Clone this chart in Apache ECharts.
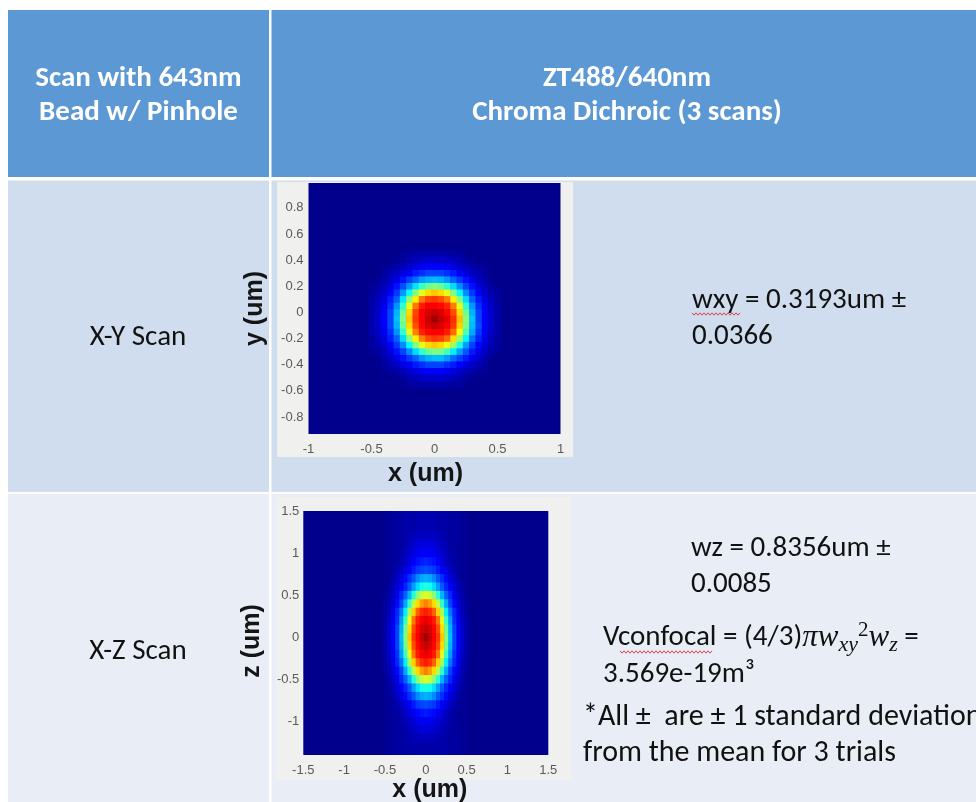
<!DOCTYPE html>
<html>
<head>
<meta charset="utf-8">
<script src="https://cdn.jsdelivr.net/npm/echarts@6/dist/echarts.min.js"></script>
<style>
  html, body { margin: 0; padding: 0; background: #ffffff; }
  #main { width: 976px; height: 802px; }
</style>
</head>
<body>
<div id="main"></div>
<script>
// x-y scan: cell centres (um) and intensity in % of peak, rows top (y = 0.45) to bottom (y = -0.55)
const xyX = [-0.5, -0.45, -0.4, -0.35, -0.3, -0.25, -0.2, -0.15, -0.1, -0.05, 0, 0.05, 0.1, 0.15, 0.2, 0.25, 0.3, 0.35, 0.4, 0.45, 0.5];
const xyY = [0.45, 0.4, 0.35, 0.3, 0.25, 0.2, 0.15, 0.1, 0.05, 0, -0.05, -0.1, -0.15, -0.2, -0.25, -0.3, -0.35, -0.4, -0.45, -0.5, -0.55];
const xyRows = [
  [0,0,0,0,0,1,2,2,3,3,3,3,3,2,2,1,0,0,0,0,0],
  [0,0,0,0,1,2,4,5,6,7,7,7,6,5,4,2,1,0,0,0,0],
  [0,0,1,2,3,5,7,9,11,12,12,12,11,9,7,5,3,2,1,0,0],
  [0,0,2,4,6,9,12,15,17,19,19,19,17,15,12,9,6,4,2,0,0],
  [0,1,3,6,10,14,19,23,28,30,31,30,27,22,18,14,10,6,3,1,0],
  [1,2,5,9,14,20,27,35,43,48,50,48,42,34,26,19,14,9,5,2,1],
  [2,4,7,12,18,27,38,51,60,66,68,66,60,50,37,26,18,12,7,4,2],
  [2,5,9,15,22,35,51,64,76,81,82,80,75,64,50,34,22,15,9,5,2],
  [3,6,11,17,27,42,60,76,85,88,88,87,84,75,60,42,27,17,11,6,3],
  [3,7,12,19,30,48,66,81,88,91,93,91,87,80,66,48,30,19,12,7,3],
  [3,7,12,19,31,50,68,82,88,93,97,93,90,83,69,51,32,19,12,7,3],
  [3,7,12,19,30,48,66,80,87,91,93,91,88,82,67,50,31,20,12,7,3],
  [3,6,11,17,27,42,60,75,84,87,88,88,85,77,62,45,29,18,11,6,3],
  [2,5,9,15,22,34,50,64,75,80,82,81,77,66,53,37,24,16,10,5,2],
  [2,4,7,12,18,26,37,50,60,66,68,66,61,53,40,28,19,13,8,4,2],
  [1,2,5,9,14,19,26,34,42,48,50,49,44,36,28,21,15,10,6,3,1],
  [0,1,3,6,10,14,18,22,27,30,31,31,28,23,19,15,11,7,4,1,0],
  [0,0,2,4,6,9,12,15,17,19,19,19,17,15,12,9,6,4,2,0,0],
  [0,0,1,2,3,5,7,9,11,12,12,12,11,9,7,5,3,2,1,0,0],
  [0,0,0,0,1,2,4,5,6,7,7,7,6,5,4,2,1,0,0,0,0],
  [0,0,0,0,0,1,2,2,3,3,3,3,3,2,2,1,0,0,0,0,0]
];

// x-z scan: cell centres (um) and intensity in % of peak, rows top (z = 1.5) to bottom (z = -1.4)
const xzX = [-0.5, -0.45, -0.4, -0.35, -0.3, -0.25, -0.2, -0.15, -0.1, -0.05, 0, 0.05, 0.1, 0.15, 0.2, 0.25, 0.3, 0.35, 0.4, 0.45, 0.5];
const xzZ = [1.5, 1.4, 1.3, 1.2, 1.1, 1.0, 0.9, 0.8, 0.7, 0.6, 0.5, 0.4, 0.3, 0.2, 0.1, 0, -0.1, -0.2, -0.3, -0.4, -0.5, -0.6, -0.7, -0.8, -0.9, -1.0, -1.1, -1.2, -1.3, -1.4];
const xzRows = [
  [1,1,2,2,2,3,3,3,4,4,4,4,4,3,3,3,2,2,2,1,1],
  [1,1,2,2,2,3,3,3,4,4,4,4,4,3,3,3,2,2,2,1,1],
  [1,1,2,2,2,3,3,3,4,4,4,4,4,3,3,3,2,2,2,1,1],
  [1,1,2,2,2,3,4,5,6,6,6,6,6,5,4,3,2,2,2,1,1],
  [1,1,2,2,2,4,5,7,8,9,9,9,8,7,5,4,2,2,2,1,1],
  [1,1,2,2,3,5,7,9,11,12,12,12,11,9,7,5,3,2,2,1,1],
  [1,1,2,2,4,6,9,12,14,15,16,15,14,12,9,6,4,2,2,1,1],
  [1,1,2,4,6,9,12,15,18,19,20,19,18,15,12,9,6,4,2,1,1],
  [1,1,3,6,9,13,17,21,26,29,30,29,26,21,17,13,9,6,3,1,1],
  [1,2,5,8,12,16,21,28,34,39,41,39,34,28,21,16,12,8,5,2,1],
  [1,3,6,10,16,22,30,41,51,57,59,57,51,41,30,22,16,10,6,3,1],
  [2,4,8,13,19,29,42,56,66,72,75,72,66,56,42,29,19,13,8,4,2],
  [2,5,10,16,24,36,54,67,78,83,85,83,78,67,54,36,24,16,10,5,2],
  [3,6,11,17,28,43,60,76,85,88,90,88,85,76,60,43,28,17,11,6,3],
  [3,7,12,19,30,48,66,80,87,91,93,91,87,80,66,48,30,19,12,7,3],
  [3,7,12,19,31,50,68,82,88,93,97,93,88,82,68,50,31,19,12,7,3],
  [3,7,12,19,30,48,66,80,87,91,93,91,87,80,66,48,30,19,12,7,3],
  [3,6,11,17,28,43,60,76,85,88,90,88,85,76,60,43,28,17,11,6,3],
  [2,5,10,16,24,36,54,67,78,83,85,83,78,67,54,36,24,16,10,5,2],
  [2,4,8,13,19,29,42,56,66,72,75,72,66,56,42,29,19,13,8,4,2],
  [1,3,6,10,16,22,30,41,51,57,59,57,51,41,30,22,16,10,6,3,1],
  [1,2,5,8,12,16,21,28,34,39,41,39,34,28,21,16,12,8,5,2,1],
  [1,1,3,6,9,13,17,21,26,29,30,29,26,21,17,13,9,6,3,1,1],
  [1,1,2,4,6,9,12,15,18,19,20,19,18,15,12,9,6,4,2,1,1],
  [1,1,2,2,4,6,9,11,13,14,15,14,13,11,9,6,4,2,2,1,1],
  [1,1,2,2,3,5,6,8,10,11,11,11,10,8,6,5,3,2,2,1,1],
  [1,1,2,2,2,3,5,6,7,8,8,8,7,6,5,3,2,2,2,1,1],
  [1,1,2,2,2,3,3,4,5,5,5,5,5,4,3,3,2,2,2,1,1],
  [1,1,2,2,2,3,3,3,3,3,3,3,3,3,3,3,2,2,2,1,1],
  [1,1,2,2,2,3,3,3,3,3,3,3,3,3,3,3,2,2,2,1,1]
];

// matlab jet
const jet = ['#00008c', '#0000ff', '#0080ff', '#00ffff', '#80ff80', '#ffff00', '#ff8000', '#ff0000', '#800000'];

const SANS = 'Carlito, Lato, "Open Sans", sans-serif';
const AX_FONT = '"Liberation Sans", Arial, sans-serif';
const MATH = '"Liberation Serif", "DejaVu Serif", serif';

function cells(xs, ys, rows) {
  const out = [];
  rows.forEach((row, i) => row.forEach((v, j) => out.push([xs[j], ys[i], v])));
  return out;
}

function cellSeries(idx, data, dx, dy) {
  return {
    type: 'custom',
    xAxisIndex: idx,
    yAxisIndex: idx,
    clip: true,
    silent: true,
    dimensions: ['x', 'y', 'v'],
    encode: { x: 0, y: 1 },
    data: data,
    renderItem: function (params, api) {
      const a = api.coord([api.value(0) - dx / 2, api.value(1) + dy / 2]);
      const b = api.coord([api.value(0) + dx / 2, api.value(1) - dy / 2]);
      return {
        type: 'rect',
        shape: { x: a[0], y: a[1], width: b[0] - a[0] + 0.6, height: b[1] - a[1] + 0.6 },
        style: { fill: api.visual('color') }
      };
    }
  };
}

// only show labels on round steps (min/max of the axis are not round)
function stepLabel(step) {
  return function (v) {
    const k = Math.round(v / step);
    if (Math.abs(v - k * step) > 1e-6) return '';
    return String(+(k * step).toFixed(2));
  };
}

function axisBase(idx) {
  return {
    gridIndex: idx,
    type: 'value',
    axisLine: { show: false, onZero: false },
    axisTick: { show: false },
    splitLine: { show: false },
    nameLocation: 'middle',
    nameMoveOverlap: false
  };
}

function nameStyle(padding) {
  return { fontSize: 25, fontWeight: 'bold', color: '#151515', fontFamily: AX_FONT, padding: padding };
}

function tickStyle(margin, formatter) {
  const s = { color: '#5a5a5a', fontSize: 13, margin: margin, fontFamily: AX_FONT };
  if (formatter) s.formatter = formatter;
  return s;
}

function squiggle(x0, x1, y) {
  const pts = [];
  let k = 0;
  for (let x = x0; x <= x1; x += 2) {
    pts.push([x, y + (k % 2 ? 1.2 : -1.2)]);
    k++;
  }
  return { type: 'polyline', shape: { points: pts }, style: { stroke: '#d8434a', lineWidth: 1, fill: null }, z: 11, silent: true };
}

function rect(x, y, w, h, color, z) {
  return { type: 'rect', shape: { x: x, y: y, width: w, height: h }, style: { fill: color }, z: z, silent: true };
}

function label(x, y, text, opts) {
  return {
    type: 'text', x: x, y: y, z: 10, silent: true,
    style: Object.assign({
      text: text, fill: '#111111', fontSize: 29, fontFamily: SANS,
      textAlign: 'left', textVerticalAlign: 'middle', lineHeight: 36
    }, opts || {})
  };
}

const chart = echarts.init(document.getElementById('main'), null, { renderer: 'canvas' });

const option = {
  animation: false,
  backgroundColor: '#ffffff',
  textStyle: { fontFamily: AX_FONT },
  graphic: [
    // table cells
    rect(8, 10, 261, 167, '#5b98d4', -20),
    rect(271.5, 10, 710, 167, '#5b98d4', -20),
    rect(8, 180.5, 261, 311.5, '#d0ddef', -20),
    rect(271.5, 180.5, 710, 311.5, '#d0ddef', -20),
    rect(8, 494, 261, 310, '#e9eef6', -20),
    rect(271.5, 494, 710, 310, '#e9eef6', -20),
    // figure panels
    rect(277, 182, 296, 275, '#f0f0ee', -15),
    rect(276, 497, 295, 283, '#f0f0ee', -15),
    // header text
    label(138.5, 96, 'Scan with 643nm\nBead w/ Pinhole', { fill: '#ffffff', fontWeight: 'bold', textAlign: 'center', lineHeight: 34 }),
    label(627, 96, 'ZT488/640nm\nChroma Dichroic (3 scans)', { fill: '#ffffff', fontWeight: 'bold', textAlign: 'center', lineHeight: 34 }),
    // row labels
    label(138, 338, 'X-Y Scan', { textAlign: 'center' }),
    label(138, 652, 'X-Z Scan', { textAlign: 'center' }),
    // results
    label(692, 319, 'wxy = 0.3193um \u00b1\n0.0366'),
    label(691, 567, 'wz = 0.8356um \u00b1\n0.0085'),
    label(603, 638, '{n|Vconfocal = (4/3)}{m|\u03c0w}{s|xy}{p|2}{m|w}{s|z}{n| =}', {
      rich: {
        n: { fontSize: 29, fontFamily: SANS, fill: '#111111', lineHeight: 36 },
        m: { fontSize: 31, fontFamily: MATH, fontStyle: 'italic', fill: '#111111', lineHeight: 36 },
        s: { fontSize: 22, fontFamily: MATH, fontStyle: 'italic', fill: '#111111', lineHeight: 22, verticalAlign: 'bottom' },
        p: { fontSize: 21, fontFamily: MATH, fill: '#111111', lineHeight: 25, verticalAlign: 'top' }
      }
    }),
    label(603, 675, '3.569e-19m\u00b3'),
    label(583, 735, '*All \u00b1  are \u00b1 1 standard deviation\nfrom the mean for 3 trials', { fontSize: 30 }),
    squiggle(692, 740, 314),
    squiggle(620, 712, 652)
  ],
  grid: [
    { left: 308.5, top: 183, width: 252, height: 251, show: true, backgroundColor: '#00008c', borderWidth: 0, outerBoundsMode: 'none' },
    { left: 303.3, top: 511, width: 245, height: 244, show: true, backgroundColor: '#00008c', borderWidth: 0, outerBoundsMode: 'none' }
  ],
  xAxis: [
    Object.assign(axisBase(0), {
      min: -1, max: 1, interval: 0.5,
      axisLabel: tickStyle(9),
      name: 'x (um)', nameGap: 28, nameTextStyle: nameStyle([0, 18, 0, 0])
    }),
    Object.assign(axisBase(1), {
      min: -1.5, max: 1.5, interval: 0.5,
      axisLabel: tickStyle(9),
      name: 'x (um)', nameGap: 23, nameTextStyle: nameStyle([0, 0, 0, 8])
    })
  ],
  yAxis: [
    Object.assign(axisBase(0), {
      min: -0.93, max: 0.99, minInterval: 0.2, maxInterval: 0.2,
      axisLabel: tickStyle(5, stepLabel(0.2)),
      name: 'y (um)', nameRotate: 90, nameGap: 41, nameTextStyle: nameStyle([0, 0, 0, 0])
    }),
    Object.assign(axisBase(1), {
      min: -1.4, max: 1.5, minInterval: 0.5, maxInterval: 0.5,
      axisLabel: tickStyle(4, stepLabel(0.5)),
      name: 'z (um)', nameRotate: 90, nameGap: 39, nameTextStyle: nameStyle([0, 16, 0, 0])
    })
  ],
  visualMap: {
    type: 'continuous',
    show: false,
    min: 0,
    max: 100,
    dimension: 2,
    seriesIndex: [0, 1],
    inRange: { color: jet }
  },
  series: [
    cellSeries(0, cells(xyX, xyY, xyRows), 0.05, 0.05),
    cellSeries(1, cells(xzX, xzZ, xzRows), 0.05, 0.1)
  ]
};

chart.setOption(option);
window.addEventListener('resize', () => chart.resize());
</script>
</body>
</html>
